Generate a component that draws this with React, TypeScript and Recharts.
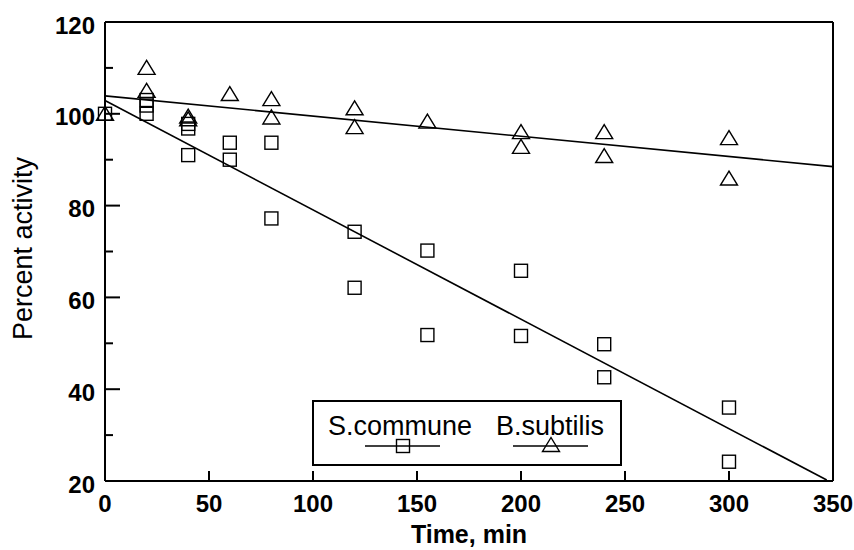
import React from "react";
import { ComposedChart, Scatter, Line, XAxis, YAxis, ReferenceLine } from "recharts";

// S.commune (squares)
const communeTime = [0, 20, 20, 20, 40, 40, 40, 60, 60, 80, 80, 120, 120, 155, 155, 200, 200, 240, 240, 300, 300];
const communeActivity = [100, 103, 101.8, 100, 97.8, 96.8, 91, 93.7, 90, 93.7, 77.2, 74.3, 62.1, 70.2, 51.8, 65.8, 51.6, 49.8, 42.6, 36, 24.2];

// B.subtilis (triangles)
const subtilisTime = [0, 20, 20, 40, 40, 60, 80, 80, 120, 120, 155, 200, 200, 240, 240, 300, 300];
const subtilisActivity = [100, 110, 105, 99.4, 98.8, 104.3, 103.2, 99.2, 101.2, 97.1, 98.3, 96, 92.8, 96, 90.8, 94.7, 85.9];

// fitted lines (end points)
const communeFitTime = [0, 347];
const communeFitActivity = [102.9, 20.2];
const subtilisFitTime = [0, 350];
const subtilisFitActivity = [103.9, 88.5];

const xTicks = [0, 50, 100, 150, 200, 250, 300, 350];
const yTicks = [20, 30, 40, 50, 60, 70, 80, 90, 100, 110, 120];

const font = "'Liberation Sans', Arial, Helvetica, sans-serif";

const zip = (xs: number[], ys: number[]) => xs.map((x, i) => ({ x, y: ys[i] }));

const communeData = zip(communeTime, communeActivity);
const subtilisData = zip(subtilisTime, subtilisActivity);
const communeFit = zip(communeFitTime, communeFitActivity);
const subtilisFit = zip(subtilisFitTime, subtilisFitActivity);

function SquareMark({ cx, cy }: any) {
  if (cx == null || cy == null) return null;
  return <rect x={cx - 6.5} y={cy - 6.5} width={13} height={13} fill="none" stroke="#000" strokeWidth={1.4} />;
}

function TriangleMark({ cx, cy }: any) {
  if (cx == null || cy == null) return null;
  return (
    <polygon
      points={`${cx},${cy - 7.5} ${cx - 8.5},${cy + 6.5} ${cx + 8.5},${cy + 6.5}`}
      fill="none"
      stroke="#000"
      strokeWidth={1.4}
    />
  );
}

function YTick({ x, y, payload }: any) {
  const major = payload.value % 20 === 0;
  return (
    <g>
      {payload.value !== 20 && payload.value !== 120 && (
        <line x1={x} x2={x + (major ? 15 : 8)} y1={y} y2={y} stroke="#000" strokeWidth={2} />
      )}
      {major && (
        <text x={x - 10} y={y + 3} dy="0.355em" textAnchor="end" fontFamily={font} fontWeight="bold" fontSize={24} fill="#000">
          {payload.value}
        </text>
      )}
    </g>
  );
}

function XTick({ x, y, payload }: any) {
  const edge = payload.value === 0 || payload.value === 350;
  return (
    <g>
      {!edge && <line x1={x} x2={x} y1={y} y2={y - 10} stroke="#000" strokeWidth={2} />}
      <text x={x} y={y + 22} dy="0.355em" textAnchor="middle" fontFamily={font} fontWeight="bold" fontSize={24} fill="#000">
        {payload.value}
      </text>
    </g>
  );
}

function Legend() {
  return (
    <div
      style={{
        position: "absolute",
        left: 312,
        top: 400,
        width: 310,
        height: 66,
        border: "2px solid #000",
        boxSizing: "border-box",
        background: "#fff",
      }}
    >
      <svg width={306} height={62} style={{ position: "absolute", left: 0, top: 0 }}>
        <text x={14} y={23} dy="0.355em" fontFamily={font} fontSize={27} fill="#000">S.commune</text>
        <text x={182} y={23} dy="0.355em" fontFamily={font} fontSize={27} fill="#000">B.subtilis</text>
        <line x1={51} x2={126} y1={44} y2={44} stroke="#000" strokeWidth={1.5} />
        <SquareMark cx={89} cy={44} />
        <line x1={199} x2={274} y1={44} y2={44} stroke="#000" strokeWidth={1.5} />
        <TriangleMark cx={237} cy={43} />
      </svg>
    </div>
  );
}

export default function App() {
  return (
    <div style={{ position: "absolute", left: 0, top: 0, width: 854, height: 550, background: "#fff" }}>
      <ComposedChart width={854} height={550} margin={{ top: 22, right: 21, bottom: 0, left: 0 }}>
        <XAxis
          dataKey="x"
          type="number"
          domain={[0, 350]}
          ticks={xTicks}
          tick={<XTick />}
          tickSize={0}
          tickMargin={0}
          height={69}
          axisLine={{ stroke: "#000", strokeWidth: 2 }}
          tickLine={false}
          label={({ viewBox }: any) => (
            <text
              x={viewBox.x + viewBox.width / 2}
              y={viewBox.y + 62}
              textAnchor="middle"
              fontFamily={font}
              fontWeight="bold"
              fontSize={25}
              fill="#000"
            >
              Time, min
            </text>
          )}
        />
        <YAxis
          dataKey="y"
          type="number"
          domain={[20, 120]}
          ticks={yTicks}
          tick={<YTick />}
          tickSize={0}
          tickMargin={0}
          width={105}
          axisLine={{ stroke: "#000", strokeWidth: 2 }}
          tickLine={false}
          label={({ viewBox }: any) => {
            const cx = viewBox.x + 22;
            const cy = viewBox.y + viewBox.height / 2 - 3;
            return (
              <text
                x={cx}
                y={cy}
                dy="0.355em"
                transform={`rotate(-90 ${cx} ${cy})`}
                textAnchor="middle"
                fontFamily={font}
                fontSize={27}
                fill="#000"
              >
                Percent activity
              </text>
            );
          }}
        />
        <ReferenceLine y={120} stroke="#000" strokeWidth={2} />
        <ReferenceLine x={350} stroke="#000" strokeWidth={2} />
        <Line data={communeFit} dataKey="y" stroke="#000" strokeWidth={1.6} dot={false} isAnimationActive={false} />
        <Line data={subtilisFit} dataKey="y" stroke="#000" strokeWidth={1.6} dot={false} isAnimationActive={false} />
        <Scatter data={communeData} dataKey="y" shape={<SquareMark />} isAnimationActive={false} />
        <Scatter data={subtilisData} dataKey="y" shape={<TriangleMark />} isAnimationActive={false} />
      </ComposedChart>
      <Legend />
    </div>
  );
}
